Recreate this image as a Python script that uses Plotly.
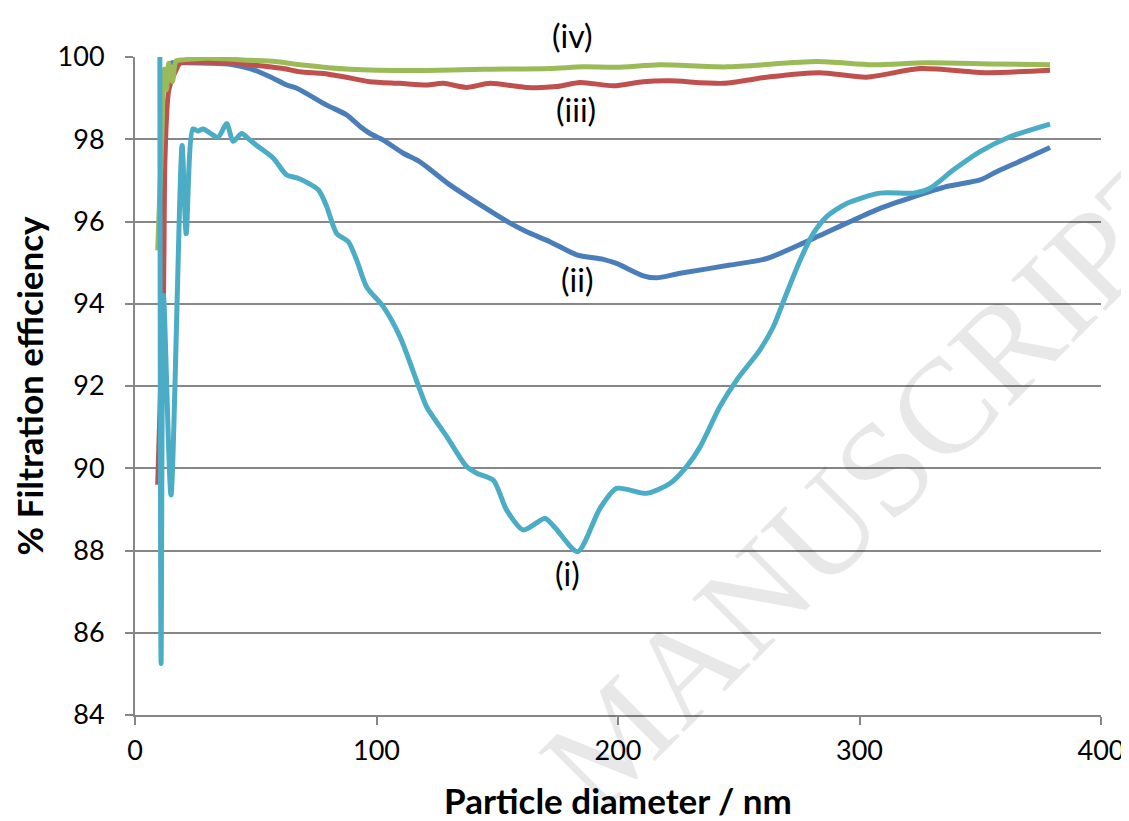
import plotly.graph_objects as go

# Particle diameter (nm) and % filtration efficiency for each curve
x_i = [10.3, 10.8, 11.8, 14.9, 19.5, 21.2, 24.0, 26.1, 28.2, 31.1, 34.4, 38.0, 40.6, 44.2, 47.6,
       50.4, 57.3, 62.8, 67.6, 75.9, 79.4, 83.5, 88.3, 91.8, 95.9, 102.8, 109.7, 118.0, 120.8,
       129.1, 137.3, 141.5, 148.4, 153.9, 160.8, 169.8, 174.0, 183.3, 192.5, 199.4, 211.9,
       221.5, 228.4, 234.0, 242.2, 249.2, 258.8, 264.3, 269.8, 275.4, 280.9, 286.4, 294.7,
       308.5, 322.3, 329.2, 338.8, 349.9, 362.3, 378.9]
y_i = [100.0, 85.25, 94.2, 89.35, 97.85, 95.7, 98.25, 98.2, 98.25, 98.15, 98.05, 98.38, 97.95, 98.14, 97.98,
       97.85, 97.54, 97.13, 97.05, 96.77, 96.36, 95.71, 95.51, 95.06, 94.41, 93.93, 93.20, 91.90, 91.49,
       90.77, 90.04, 89.88, 89.71, 88.98, 88.50, 88.78, 88.55, 87.97, 89.02, 89.51, 89.39,
       89.63, 90.04, 90.52, 91.50, 92.15, 92.88, 93.44, 94.25, 95.06, 95.71, 96.12, 96.44,
       96.69, 96.69, 96.81, 97.25, 97.70, 98.06, 98.37]

x_ii = [12.5, 15.0, 20.0, 30.0, 40.0, 47.6, 55.9, 62.8, 67.0, 79.4, 87.7, 93.2, 97.3, 102.8,
        111.1, 118.0, 130.4, 144.2, 155.3, 162.2, 171.8, 182.9, 193.9, 199.4, 210.5, 216.0,
        225.7, 246.4, 261.6, 278.1, 294.7, 308.5, 322.3, 336.1, 349.9, 356.8, 367.8, 378.9]
y_ii = [99.6, 99.85, 99.86, 99.85, 99.82, 99.72, 99.52, 99.32, 99.24, 98.83, 98.59, 98.31, 98.14, 97.98,
        97.66, 97.45, 96.89, 96.36, 95.96, 95.75, 95.51, 95.19, 95.08, 94.98, 94.68, 94.63,
        94.74, 94.94, 95.10, 95.51, 95.96, 96.32, 96.60, 96.85, 97.01, 97.21, 97.50, 97.80]

x_iii = [9.4, 11.8, 12.4, 14.0, 17.3, 18.6, 25.0, 39.0, 47.6, 61.4, 68.3, 78.0, 86.3, 97.3, 109.7,
         120.8, 127.7, 137.3, 147.0, 162.2, 174.6, 184.3, 198.1, 210.5, 221.5, 243.6, 262.9,
         283.6, 303.0, 325.1, 352.7, 378.9]
y_iii = [89.6, 94.3, 97.5, 99.2, 99.72, 99.85, 99.87, 99.86, 99.81, 99.72, 99.64, 99.60, 99.52, 99.40, 99.36,
         99.32, 99.36, 99.26, 99.36, 99.26, 99.28, 99.38, 99.30, 99.40, 99.42, 99.36, 99.52,
         99.62, 99.51, 99.72, 99.62, 99.68]

x_iv = [9.4, 11.2, 12.0, 13.0, 14.0, 15.5, 17.0, 20.0, 30.0, 47.6, 58.0, 68.3, 89.0, 116.6, 144.2,
        171.8, 185.6, 199.4, 217.4, 245.0, 282.2, 305.7, 327.8, 355.4, 378.9]
y_iv = [95.3, 98.2, 99.7, 99.2, 99.85, 99.4, 99.9, 99.93, 99.97, 99.92, 99.89, 99.81, 99.70, 99.67, 99.70,
        99.72, 99.76, 99.75, 99.81, 99.76, 99.89, 99.81, 99.86, 99.83, 99.81]

labels = ["(i)", "(ii)", "(iii)", "(iv)"]
label_x = [179, 183, 182.5, 181]
label_y = [87.45, 94.58, 98.72, 100.0]
label_shift = [0, 0, 0, 22]

x_ticks = [0, 100, 200, 300, 400]
y_ticks = [84, 86, 88, 90, 92, 94, 96, 98, 100]

FONT = "Lato"
GRID = "#878787"

series = [
    (x_ii, y_ii, "#4A7EBB"),
    (x_iii, y_iii, "#C0504D"),
    (x_iv, y_iv, "#9BBB59"),
    (x_i, y_i, "#4BACC6"),
]

fig = go.Figure()
for xs, ys, col in series:
    fig.add_trace(go.Scatter(x=xs, y=ys, mode="lines",
                             line=dict(color=col, width=5, shape="spline", smoothing=0.7),
                             showlegend=False, hoverinfo="skip"))

for t, lx, ly, sh in zip(labels, label_x, label_y, label_shift):
    fig.add_annotation(x=lx, y=ly, yshift=sh, text=t, showarrow=False,
                       xanchor="center", yanchor="middle",
                       font=dict(family=FONT, size=32, color="#000000"))

# watermark
fig.add_annotation(xref="paper", yref="paper", x=(873 - 135) / 966, y=(715 - 478) / 658,
                   xanchor="center", yanchor="middle",
                   text="MANUSCRIPT", showarrow=False, textangle=-45,
                   font=dict(family="Liberation Serif", size=135, color="rgba(0,0,0,0.09)"))

# page body has an 8px margin, so the figure is offset by (8, 8)
fig.update_layout(
    width=1121, height=813,
    margin=dict(l=127, r=28, t=49, b=106, autoexpand=False),
    paper_bgcolor="white", plot_bgcolor="white",
    font=dict(family=FONT, size=27, color="#000000"),
)
fig.update_xaxes(range=[0, 400], tickvals=x_ticks, showgrid=False, zeroline=False,
                 automargin=False,
                 showline=True, linecolor=GRID, linewidth=2,
                 ticks="outside", ticklen=8, tickwidth=2, tickcolor=GRID,
                 ticklabelstandoff=3,
                 tickfont=dict(family=FONT, size=27),
                 title=dict(text="<b>Particle diameter / nm</b>", font=dict(family=FONT, size=35), standoff=28))
fig.update_yaxes(range=[84, 100], tickvals=y_ticks, showgrid=True, gridcolor=GRID, gridwidth=2,
                 automargin=False,
                 zeroline=False, showline=True, linecolor=GRID, linewidth=2,
                 ticks="outside", ticklen=8, tickwidth=2, tickcolor=GRID,
                 ticklabelstandoff=15,
                 tickfont=dict(family=FONT, size=27),
                 title=dict(text="<b>% Filtration efficiency</b>", font=dict(family=FONT, size=35), standoff=6))

fig.write_html("out.html")
